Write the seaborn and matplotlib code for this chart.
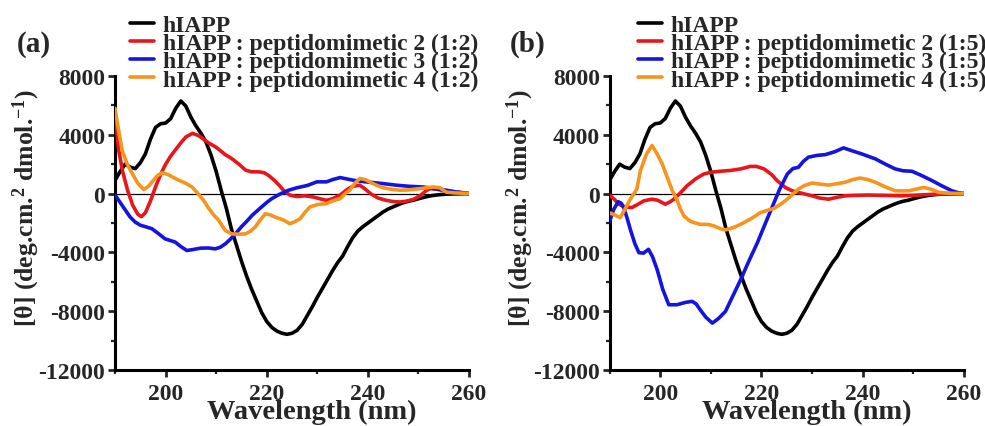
import matplotlib
matplotlib.use("Agg")
import matplotlib.pyplot as plt
import seaborn as sns
import pandas as pd
from matplotlib.ticker import MultipleLocator

sns.set_style("ticks")
plt.rcParams.update({
    "font.family": ["Liberation Serif", "DejaVu Serif"],
    "font.weight": "bold",
    "axes.labelweight": "bold",
    "axes.unicode_minus": False,
    "mathtext.fontset": "custom",
    "mathtext.rm": "Liberation Serif:bold",
    "mathtext.it": "Liberation Serif:bold:italic",
    "mathtext.bf": "Liberation Serif:bold",
})

# ---------------- data ----------------
wl_hiapp = list(range(190, 261))
cd_hiapp = [900, 1500, 2000, 1800, 1700, 2100, 2700, 3700, 4500, 4750,
            4800, 5100, 5800, 6300, 5950, 5200, 4600, 4100, 3500, 2600,
            1500, 200, -1000, -2400, -3500, -4600, -5600, -6500, -7300, -8100,
            -8700, -9100, -9350, -9500, -9570, -9500, -9300, -8900, -8300, -7700,
            -7050, -6450, -5850, -5250, -4700, -4250, -3600, -3000, -2550, -2250,
            -2000, -1750, -1500, -1250, -1050, -900, -750, -620, -520, -450,
            -350, -260, -180, -120, -80, -50, -30, -20, -10, -5, 0]

# panel (a) 1:2
wl_p2_a = [190, 190.7, 191.5, 192.5, 193.5, 194.5, 195.2, 196, 197, 198, 199, 200, 201, 202, 203, 204,
           205.3, 206.5, 207.5, 208.5, 210, 211.8, 213, 214.5, 215.8, 217, 218.4, 219.5, 220.5,
           221.5, 222.5, 223.5, 224.6, 226, 227.5, 229.2, 230.5, 231.8, 233, 234.5, 236, 237,
           238.4, 239.5, 240.5, 242, 243.5, 245, 246.3, 247.5, 249, 250.5, 251.5, 252.3, 253.5,
           255, 256.5, 258, 259, 260]
cd_p2_a = [5500, 3000, 1500, 200, -800, -1400, -1570, -1300, -500, 450, 1300, 2000, 2550, 3000, 3450, 3850,
           4100, 3950, 3700, 3450, 3150, 2650, 2400, 2000, 1600, 1480, 1480, 1420, 1200,
           900, 550, 150, -110, -200, -150, -230, -350, -460, -350, -100, 300, 500,
           570, 300, 0, -300, -450, -540, -570, -520, -400, -100, 200, 340, 300,
           200, 150, 100, 50, 0]

wl_p3_a = [190, 191, 192, 193, 194, 195, 196, 197.3, 198.5, 199.9, 201, 201.9, 203, 204.2, 205.5,
           206.9, 208.5, 209.8, 210.8, 211.8, 212.8, 213.8, 215, 216, 217.1, 218.5, 220, 221,
           222.5, 224.3, 226, 228, 229.9, 231.8, 233, 234.5, 235.8, 237.1, 239, 241, 243,
           245.7, 248, 250.9, 253, 255.5, 257.5, 260]
cd_p3_a = [-100, -600, -1100, -1600, -1940, -2150, -2250, -2390, -2700, -3080, -3200, -3300, -3600, -3870, -3800,
           -3710, -3700, -3760, -3650, -3420, -3100, -2740, -2250, -1900, -1480, -1050, -600, -340,
           -50, 230, 400, 550, 800, 800, 950, 1090, 1000, 910, 820, 750, 680,
           570, 500, 450, 350, 230, 100, 0]

wl_p4_a = [190, 190.5, 191.4, 192.4, 193.4, 194.5, 195.7, 196.6, 197.6, 198.5, 199.3, 200.5, 201.5,
           202.6, 204, 205.2, 206.3, 207.5, 208.5, 209.5, 210.5, 211.8, 213.1, 214.5, 215.8,
           216.8, 217.7, 218.7, 219.7, 220.7, 221.7, 223.3, 224.6, 225.6, 226.6, 227.5, 228.5,
           230, 231.8, 233, 234.5, 235.5, 236.4, 237.4, 238.4, 239.5, 240.6, 241.7, 243, 244.5,
           246.3, 248, 250.3, 252.9, 254.2, 255.5, 257, 258.5, 260]
cd_p4_a = [5800, 4700, 2960, 2000, 1370, 700, 270, 500, 910, 1250, 1410, 1300, 1100,
           910, 700, 450, 50, -460, -1000, -1450, -1820, -2510, -2740, -2760, -2740,
           -2550, -2280, -1800, -1370, -1450, -1600, -1800, -2050, -1900, -1710, -1300, -910,
           -750, -680, -500, -340, 0, 230, 700, 1030, 950, 750, 570, 400, 300,
           230, 250, 340, 450, 400, 100, 50, 30, 0]

# panel (b) 1:5
wl_p2_b = [190, 191, 191.8, 193, 194.4, 195.5, 196.8, 198.4, 199.5, 201, 202, 202.7, 204, 205.3,
           207, 208.6, 210, 211.9, 214, 215.9, 217.8, 219, 220.5, 222, 223.1, 224.7, 226, 227.3,
           230, 231.5, 233.2, 235, 236.5, 238.5, 241.1, 244, 247.7, 251, 254.2, 257, 260]
cd_p2_b = [-100, -400, -720, -900, -950, -750, -490, -380, -450, -720, -550, -380, 50, 530,
           1000, 1330, 1450, 1520, 1580, 1680, 1850, 1850, 1680, 1300, 880, 420, 200, 80,
           -150, -300, -380, -250, -150, -120, -100, -120, -150, -100, -40, -10, 0]

wl_p3_b = [190, 190.8, 191.7, 192.3, 192.8, 193.5, 194.1, 195, 195.8, 196.7, 197.7, 198.5, 199.4,
           200.5, 201.7, 203.3, 205, 206.3, 207.1, 207.9, 209, 210.3, 211.5, 212.9, 214.3, 215.9,
           217.5, 219.2, 220.8, 222.5, 223.6, 225.1, 226.2, 227.3, 228.3, 229.3, 231, 232.6,
           234.5, 236.2, 238, 239.8, 242.5, 244.5, 246.4, 248, 249.7, 251.5, 253.7, 255.5,
           257.6, 259, 260]
cd_p3_b = [-1900, -1100, -550, -650, -940, -1700, -2430, -3400, -4020, -4050, -3790, -4300, -5160,
           -6500, -7560, -7560, -7400, -7330, -7500, -7900, -8400, -8810, -8500, -8010, -7000, -5850,
           -4600, -3340, -2000, -600, 300, 1330, 1700, 1790, 2200, 2480, 2600, 2650,
           2850, 3110, 2900, 2700, 2360, 2000, 1680, 1550, 1520, 1250, 880, 550,
           190, 50, 0]

wl_p4_b = [190, 191, 192.1, 193, 194.1, 195.4, 196.1, 197.3, 198.4, 199.4, 200.4, 201.4, 202.4,
           203.3, 204, 204.7, 206, 207.9, 209.5, 210.6, 212, 212.9, 214.5, 215.9, 218, 219.8,
           221.1, 222.5, 223.8, 224.7, 226, 227.3, 228.5, 230, 231.5, 233.2, 235, 236.5, 238,
           239.5, 241, 242.5, 244.5, 246.4, 248, 249.1, 250.5, 252, 253.5, 255, 257, 260]
cd_p4_b = [-1300, -1450, -1630, -1100, -380, 310, 1560, 2700, 3270, 2700, 2020, 1100, 190,
           -400, -1060, -1520, -1900, -2090, -2100, -2200, -2400, -2470, -2300, -2090, -1700, -1290,
           -1150, -1000, -720, -490, -100, 310, 550, 720, 650, 580, 680, 770, 950,
           1060, 950, 770, 450, 190, 180, 190, 300, 420, 300, 80, 30, 0]

labels_a = ["hIAPP", "hIAPP : peptidomimetic 2 (1:2)",
            "hIAPP : peptidomimetic 3 (1:2)", "hIAPP : peptidomimetic 4 (1:2)"]
labels_b = ["hIAPP", "hIAPP : peptidomimetic 2 (1:5)",
            "hIAPP : peptidomimetic 3 (1:5)", "hIAPP : peptidomimetic 4 (1:5)"]
colors = ["#000000", "#e8161b", "#1414e0", "#f7941d"]
x_ticks = [200, 220, 240, 260]
y_ticks = [-12000, -8000, -4000, 0, 4000, 8000]


def make_df(labels, series):
    rows = []
    for lab, (w, c) in zip(labels, series):
        rows.append(pd.DataFrame({"wl": w, "cd": c, "series": lab}))
    return pd.concat(rows, ignore_index=True)


df_a = make_df(labels_a, [(wl_hiapp, cd_hiapp), (wl_p2_a, cd_p2_a),
                          (wl_p3_a, cd_p3_a), (wl_p4_a, cd_p4_a)])
df_b = make_df(labels_b, [(wl_hiapp, cd_hiapp), (wl_p2_b, cd_p2_b),
                          (wl_p3_b, cd_p3_b), (wl_p4_b, cd_p4_b)])

fig = plt.figure(figsize=(9.85, 4.27), dpi=100)
ax_a = fig.add_axes([0.1168, 0.1311, 0.3594, 0.6886])
ax_b = fig.add_axes([0.6188, 0.1311, 0.3599, 0.6886])

ylab = r"[θ] (deg.cm.$^{2}$ dmol.$^{-1}$)"

for ax, df, labels, tag, tagx, legx in [(ax_a, df_a, labels_a, "(a)", 0.017, 0.132),
                                        (ax_b, df_b, labels_b, "(b)", 0.518, 0.6477)]:
    ax.axhline(0, color="black", lw=0.9, zorder=1)
    sns.lineplot(data=df, x="wl", y="cd", hue="series", hue_order=labels,
                 palette=colors, sort=False, estimator=None, lw=2.6, ax=ax,
                 legend=True, zorder=3)
    ax.set_xlim(190, 260)
    ax.set_ylim(-12000, 8000)
    ax.set_xticks(x_ticks)
    ax.set_yticks(y_ticks)
    ax.xaxis.set_minor_locator(MultipleLocator(10))
    ax.yaxis.set_minor_locator(MultipleLocator(2000))
    ax.tick_params(which="major", direction="out", length=5, width=2,
                   labelsize=17, pad=2)
    ax.tick_params(axis="x", which="major", pad=4)
    ax.tick_params(which="minor", direction="out", length=3, width=1.6)
    for lab in ax.get_xticklabels() + ax.get_yticklabels():
        lab.set_fontweight("bold")
    sns.despine(ax=ax)
    for s in ["left", "bottom"]:
        ax.spines[s].set_linewidth(2.2)
        ax.spines[s].set_color("black")
    ax.set_xlabel("Wavelength (nm)", fontsize=20.5, fontweight="bold")
    ax.set_ylabel(ylab, fontsize=18.5, fontweight="bold")
    ax.xaxis.set_label_coords(0.556, -0.098)
    ax.yaxis.set_label_coords(-0.206, 0.554)
    handles, _ = ax.get_legend_handles_labels()
    ax.legend(handles, labels, loc="upper left", bbox_to_anchor=(legx, 0.964),
              bbox_transform=fig.transFigure, frameon=False, borderpad=0,
              borderaxespad=0, handlelength=1.0, handletextpad=0.38,
              labelspacing=-0.14, prop={"size": 17, "weight": "bold"})
    fig.text(tagx, 0.895, tag, fontsize=21, fontweight="bold", va="center", ha="left")

fig.savefig("out.png", dpi=100)
